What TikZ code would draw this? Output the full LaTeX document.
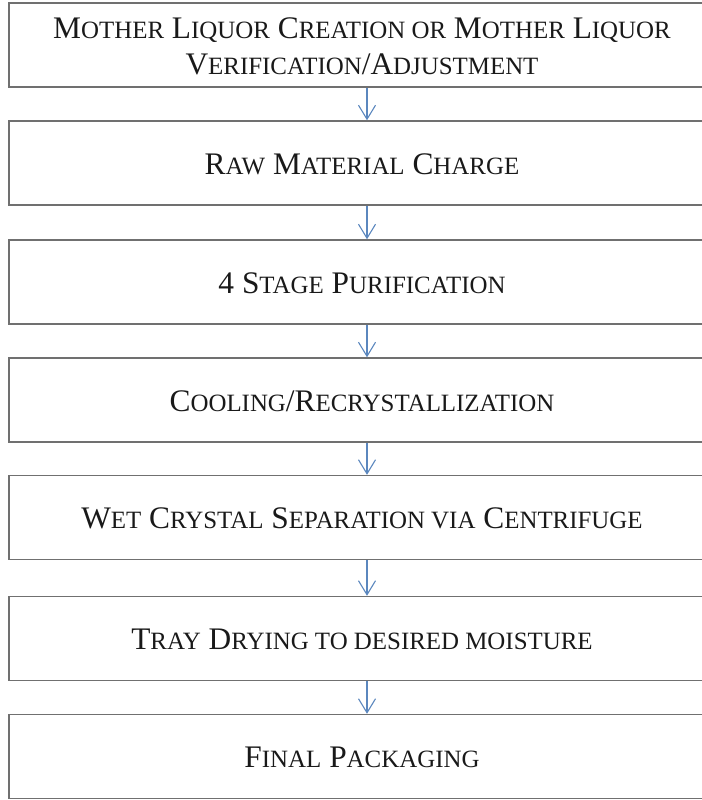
\documentclass[tikz,border=0pt]{standalone}
\usepackage{fontspec}
\setmainfont{Liberation Serif}
\usetikzlibrary{arrows.meta}
\definecolor{boxline}{RGB}{112,112,112}
\definecolor{arrowblue}{RGB}{91,135,190}
\newcommand\smc[1]{{\fontsize{25}{36}\selectfont\MakeUppercase{#1}}}
\tikzset{
  stepbox/.style={draw=boxline, line width=1.4bp, minimum width=716bp, minimum height=84bp, inner sep=0pt},
  steptext/.style={font=\fontsize{31.5}{36}\selectfont, align=center, text=black!90, inner sep=0pt},
  flow/.style={draw=arrowblue, line width=1.1bp, -{Straight Barb[length=14bp,width=17bp,line width=1.1bp]}}
}
\begin{document}
\begin{tikzpicture}[x=1bp,y=-1bp]
\useasboundingbox (0,0) rectangle (702,800);
\clip (0,0) rectangle (702,800);
\node[stepbox] (b1) at (367,45) {};
\node[stepbox] (b2) at (367,163) {};
\node[stepbox] (b3) at (367,282) {};
\node[stepbox] (b4) at (367,400) {};
\node[stepbox] (b5) at (367,517.5) {};
\node[stepbox] (b6) at (367,638.5) {};
\node[stepbox] (b7) at (367,756.5) {};
\node[steptext] (t1) at (362,46) {M\smc{other} L\smc{iquor} C\smc{reation or} M\smc{other} L\smc{iquor}\\V\smc{erification}/A\smc{djustment}};
\node[steptext] (t2) at (362,164) {R\smc{aw} M\smc{aterial} C\smc{harge}};
\node[steptext] (t3) at (362,283) {4 S\smc{tage} P\smc{urification}};
\node[steptext] (t4) at (362,401) {C\smc{ooling}/R\smc{ecrystallization}};
\node[steptext] (t5) at (362,518.5) {W\smc{et} C\smc{rystal} S\smc{eparation via} C\smc{entrifuge}};
\node[steptext] (t6) at (362,639.5) {T\smc{ray} D\smc{rying to desired moisture}};
\node[steptext] (t7) at (362,757.5) {F\smc{inal} P\smc{ackaging}};
\foreach \a/\b in {b1/b2,b2/b3,b3/b4,b4/b5,b5/b6,b6/b7}
  \draw[flow] (\a.south) -- (\b.north);
\end{tikzpicture}
\end{document}
